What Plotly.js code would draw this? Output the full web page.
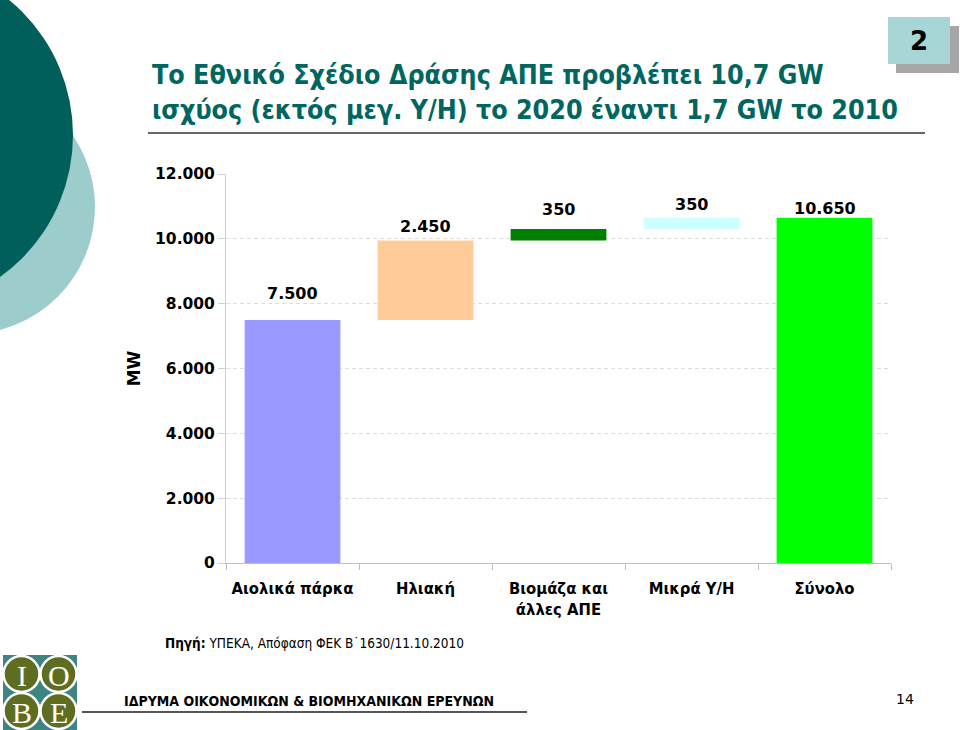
<!DOCTYPE html>
<html>
<head>
<meta charset="utf-8">
<script src="https://cdn.plot.ly/plotly-3.0.1.min.js"></script>
<style>html,body{margin:0;padding:0;background:#fff;}#chart{width:960px;height:730px;}</style>
</head>
<body>
<div id="chart"></div>
<script>
// ---- data ----
const categories = ['Αιολικά πάρκα', 'Ηλιακή', 'Βιομάζα και<br>άλλες ΑΠΕ', 'Μικρά Υ/Η', 'Σύνολο'];
const values = [7500, 2450, 350, 350, 10650];
const isTotal = [false, false, false, false, true];
const yTickValues = [0, 2000, 4000, 6000, 8000, 10000, 12000];
const titleText = 'Το Εθνικό Σχέδιο Δράσης ΑΠΕ προβλέπει 10,7 GW<br>ισχύος (εκτός μεγ. Υ/Η) το 2020 έναντι 1,7 GW το 2010';
const yTitle = 'MW';
const sourceText = '<b>Πηγή:</b> ΥΠΕΚΑ, Απόφαση ΦΕΚ Β˙1630/11.10.2010';
const footerText = 'ΙΔΡΥΜΑ ΟΙΚΟΝΟΜΙΚΩΝ & ΒΙΟΜΗΧΑΝΙΚΩΝ ΕΡΕΥΝΩΝ';
const pageNumber = '14';
const slideNumber = '2';

// ---- styling ----
const barColors = ['#9999FF', '#FFCC99', '#008000', '#CCFFFF', '#00FF00'];
const labelShift = [15, 2, 8, 2, -2];
const teal = '#00665F';

// waterfall bases from the values
const bases = [];
let run = 0;
values.forEach((v, i) => {
  if (isTotal[i]) { bases.push(0); }
  else { bases.push(run); run += v; }
});
const tops = values.map((v, i) => bases[i] + v);
const fmt = v => String(v).replace(/\B(?=(\d{3})+(?!\d))/g, '.');

// pixel -> paper helpers
const W = 960, H = 730;
const M = {l: 226, r: 69, t: 174, b: 167};
const PW = W - M.l - M.r, PH = H - M.t - M.b;
const px = x => (x - M.l) / PW;
const py = y => (H - M.b - y) / PH;

const shapes = [
  // left decorative circles
  {type: 'circle', xref: 'paper', yref: 'paper', x0: px(-159), x1: px(95), y0: py(80), y1: py(334),
   fillcolor: '#9CCCCC', line: {width: 0}, layer: 'below'},
  {type: 'circle', xref: 'paper', yref: 'paper', x0: px(-276), x1: px(73), y0: py(-39.6), y1: py(309.6),
   fillcolor: '#005F5A', line: {width: 0}, layer: 'below'},
  // slide number box
  {type: 'rect', xref: 'paper', yref: 'paper', x0: px(896), x1: px(959), y0: py(26), y1: py(73),
   fillcolor: '#A6A6A6', line: {width: 0}},
  {type: 'rect', xref: 'paper', yref: 'paper', x0: px(888), x1: px(950), y0: py(17), y1: py(64),
   fillcolor: '#A8D6D6', line: {width: 0}},
  // title underline
  {type: 'line', xref: 'paper', yref: 'paper', x0: px(148), x1: px(925), y0: py(133), y1: py(133),
   line: {color: '#333333', width: 1.5}},
  // footer underline
  {type: 'line', xref: 'paper', yref: 'paper', x0: px(82), x1: px(527), y0: py(712), y1: py(712),
   line: {color: '#555555', width: 2}},
  // logo
  {type: 'rect', xref: 'paper', yref: 'paper', x0: px(3), x1: px(77), y0: py(655), y1: py(730),
   fillcolor: '#3E8582', line: {width: 0}}
];
const logoCenters = [[21.5, 674], [58.5, 674], [21.5, 711], [58.5, 711]];
const logoLetters = ['I', 'O', 'B', 'E'];
logoCenters.forEach(c => {
  shapes.push({type: 'circle', xref: 'paper', yref: 'paper',
    x0: px(c[0] - 18), x1: px(c[0] + 18), y0: py(c[1] - 18), y1: py(c[1] + 18),
    fillcolor: '#5F6D20', line: {color: '#FFFFFF', width: 2.5}});
});

const annotations = [];
// value labels
values.forEach((v, i) => {
  annotations.push({x: categories[i], y: tops[i], xref: 'x', yref: 'y', text: '<b>' + fmt(v) + '</b>',
    showarrow: false, xanchor: 'center', yanchor: 'bottom', yshift: labelShift[i],
    font: {family: 'DejaVu Sans', size: 16, color: '#000'}});
});
// slide number
annotations.push({x: px(919), y: py(41), xref: 'paper', yref: 'paper', text: '<b>' + slideNumber + '</b>',
  xanchor: 'center', yanchor: 'middle',
  showarrow: false, font: {family: 'DejaVu Sans', size: 26, color: '#000'}});
// source
annotations.push({x: px(163), y: py(643), xref: 'paper', yref: 'paper', text: sourceText,
  xanchor: 'left', yanchor: 'middle',
  showarrow: false, font: {family: 'DejaVu Sans Condensed', size: 13.5, color: '#000'}});
// footer
annotations.push({x: px(122), y: py(701), xref: 'paper', yref: 'paper', text: '<b>' + footerText + '</b>',
  xanchor: 'left', yanchor: 'middle',
  showarrow: false, font: {family: 'DejaVu Sans Condensed', size: 14, color: '#000'}});
annotations.push({x: px(905), y: py(699), xref: 'paper', yref: 'paper', text: pageNumber,
  xanchor: 'center', yanchor: 'middle',
  showarrow: false, font: {family: 'DejaVu Sans', size: 14, color: '#000'}});
// logo letters
logoCenters.forEach((c, i) => {
  annotations.push({x: px(c[0]), y: py(c[1] + 1), xref: 'paper', yref: 'paper', text: logoLetters[i],
    xanchor: 'center', yanchor: 'middle',
    showarrow: false, font: {family: 'Liberation Serif', size: 30, color: '#FFFFFF'}});
});

const trace = {
  type: 'bar',
  x: categories,
  y: values,
  base: bases,
  width: 0.72,
  marker: {color: barColors, line: {width: 0}},
  hoverinfo: 'skip'
};

const layout = {
  width: W, height: H,
  margin: M,
  paper_bgcolor: '#FFFFFF', plot_bgcolor: '#FFFFFF',
  showlegend: false,
  hovermode: false,
  separators: ',.',
  title: {
    text: '<b>' + titleText + '</b>',
    x: 152 / W, xanchor: 'left', xref: 'container',
    y: 1 - 84 / H, yanchor: 'middle', yref: 'container',
    font: {family: 'DejaVu Sans Condensed', size: 26.6, color: teal}
  },
  xaxis: {
    type: 'category',
    range: [-0.5, 4.5],
    showline: true, linecolor: '#BFBFBF', linewidth: 1,
    ticks: 'outside', tickson: 'boundaries', ticklen: 6, tickcolor: '#BFBFBF',
    ticklabelstandoff: 10,
    tickangle: 0,
    showgrid: false, zeroline: false,
    tickfont: {family: 'DejaVu Sans Condensed', size: 16.5, color: '#000', weight: 'bold'}
  },
  yaxis: {
    range: [0, 12000],
    tickvals: yTickValues,
    tickformat: ',d',
    showline: true, linecolor: '#D0D0D0', linewidth: 1,
    ticks: 'outside', ticklen: 7, tickcolor: '#D0D0D0',
    showgrid: true, gridcolor: '#DDDDDD', griddash: '4px,3px', gridwidth: 1,
    zeroline: false,
    tickfont: {family: 'DejaVu Sans', size: 15.5, color: '#000', weight: 'bold'},
    title: {text: '<b>' + yTitle + '</b>', standoff: 10,
      font: {family: 'DejaVu Sans', size: 17, color: '#000'}}
  },
  shapes: shapes,
  annotations: annotations
};

Plotly.newPlot('chart', [trace], layout, {displayModeBar: false, staticPlot: true});
</script>
</body>
</html>
